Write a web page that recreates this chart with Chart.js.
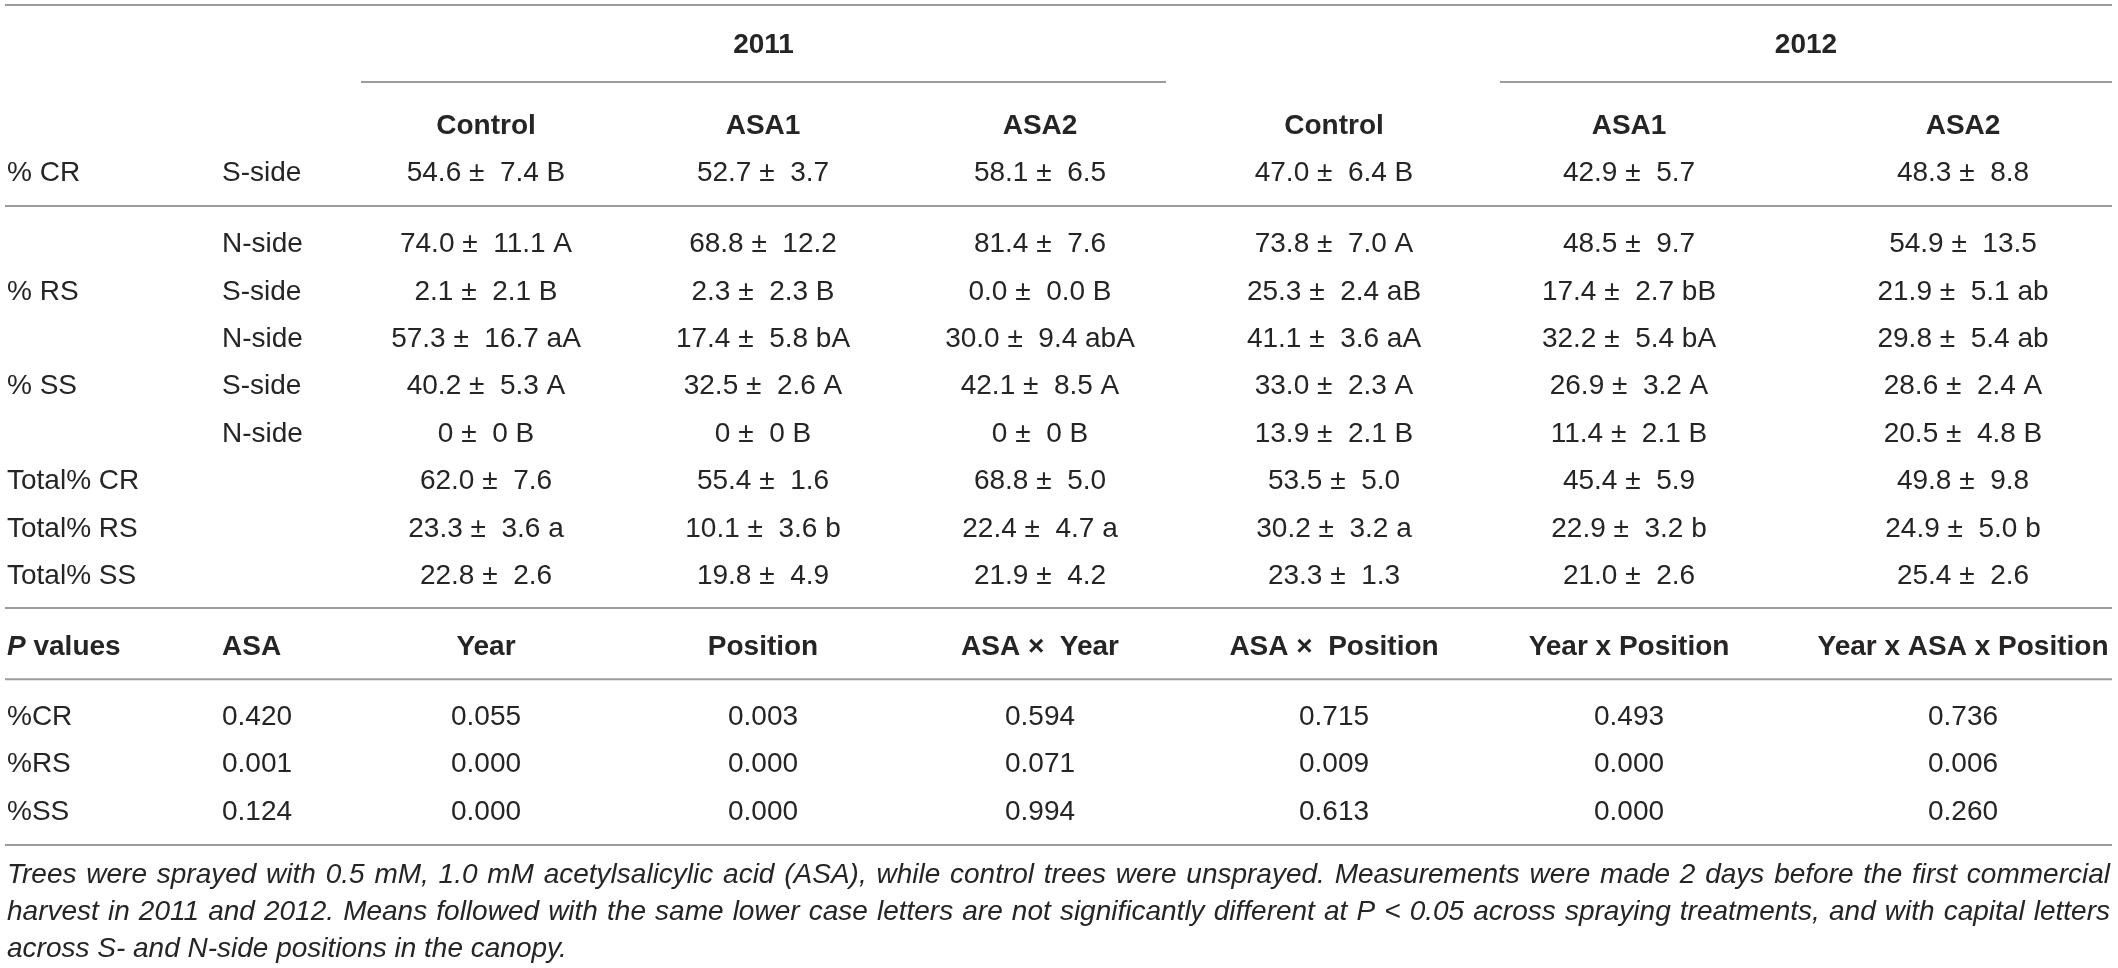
<!DOCTYPE html>
<html>
<head>
<meta charset="utf-8">
<title>Table</title>
<script src="https://cdn.jsdelivr.net/npm/chart.js@4.4.1/dist/chart.umd.min.js"></script>
<style>
  html, body { margin: 0; padding: 0; background: #fff; }
  #wrap { width: 2118px; height: 968px; }
</style>
</head>
<body>
<div id="wrap"><canvas id="tableChart" width="2118" height="968"></canvas></div>
<script>
// table content
const years = ['2011', '2012'];
const treatments = ['Control', 'ASA1', 'ASA2', 'Control', 'ASA1', 'ASA2'];
const traitLabels = ['% CR', '', '% RS', '', '% SS', '', 'Total% CR', 'Total% RS', 'Total% SS'];
const sideLabels = ['S-side', 'N-side', 'S-side', 'N-side', 'S-side', 'N-side', '', '', ''];

const control2011 = ['54.6 ±  7.4 B', '74.0 ±  11.1 A', '2.1 ±  2.1 B', '57.3 ±  16.7 aA', '40.2 ±  5.3 A', '0 ±  0 B', '62.0 ±  7.6', '23.3 ±  3.6 a', '22.8 ±  2.6'];
const asa1_2011 = ['52.7 ±  3.7', '68.8 ±  12.2', '2.3 ±  2.3 B', '17.4 ±  5.8 bA', '32.5 ±  2.6 A', '0 ±  0 B', '55.4 ±  1.6', '10.1 ±  3.6 b', '19.8 ±  4.9'];
const asa2_2011 = ['58.1 ±  6.5', '81.4 ±  7.6', '0.0 ±  0.0 B', '30.0 ±  9.4 abA', '42.1 ±  8.5 A', '0 ±  0 B', '68.8 ±  5.0', '22.4 ±  4.7 a', '21.9 ±  4.2'];
const control2012 = ['47.0 ±  6.4 B', '73.8 ±  7.0 A', '25.3 ±  2.4 aB', '41.1 ±  3.6 aA', '33.0 ±  2.3 A', '13.9 ±  2.1 B', '53.5 ±  5.0', '30.2 ±  3.2 a', '23.3 ±  1.3'];
const asa1_2012 = ['42.9 ±  5.7', '48.5 ±  9.7', '17.4 ±  2.7 bB', '32.2 ±  5.4 bA', '26.9 ±  3.2 A', '11.4 ±  2.1 B', '45.4 ±  5.9', '22.9 ±  3.2 b', '21.0 ±  2.6'];
const asa2_2012 = ['48.3 ±  8.8', '54.9 ±  13.5', '21.9 ±  5.1 ab', '29.8 ±  5.4 ab', '28.6 ±  2.4 A', '20.5 ±  4.8 B', '49.8 ±  9.8', '24.9 ±  5.0 b', '25.4 ±  2.6'];

const pHeaders = ['values', 'ASA', 'Year', 'Position', 'ASA ×  Year', 'ASA ×  Position', 'Year x Position', 'Year x ASA x Position'];
const pTraits = ['%CR', '%RS', '%SS'];
const pASA = ['0.420', '0.001', '0.124'];
const pYear = ['0.055', '0.000', '0.000'];
const pPosition = ['0.003', '0.000', '0.000'];
const pAsaYear = ['0.594', '0.071', '0.994'];
const pAsaPosition = ['0.715', '0.009', '0.613'];
const pYearPosition = ['0.493', '0.000', '0.000'];
const pAll = ['0.736', '0.006', '0.260'];

const footnote = [
  'Trees were sprayed with 0.5 mM, 1.0 mM acetylsalicylic acid (ASA), while control trees were unsprayed. Measurements were made 2 days before the first commercial',
  'harvest in 2011 and 2012. Means followed with the same lower case letters are not significantly different at P <  0.05 across spraying treatments, and with capital letters',
  'across S- and N-side positions in the canopy.'
];

// layout: x in table px units, y in row units
const colLeft = [7, 222];
const colCenter = [486, 763, 1040, 1334, 1629, 1963];
const bodyRows = [0, 1.5, 2.5, 3.5, 4.5, 5.5, 6.5, 7.5, 8.5];
const pRows = [11.48, 12.47, 13.48];
const noteRows = [14.81, 15.59, 16.37];

const valueCols = [control2011, asa1_2011, asa2_2011, control2012, asa1_2012, asa2_2012];
const pCols = [pASA, pYear, pPosition, pAsaYear, pAsaPosition, pYearPosition, pAll];

const ink = '#262424';
const ruleColor = '#9c9c9c';
const bodyFont = '28px "Liberation Sans", Arial, sans-serif';
const boldFont = 'bold 28px "Liberation Sans", Arial, sans-serif';
const noteFont = 'italic 28px "Liberation Sans", Arial, sans-serif';

function rule(x0, x1, y) {
  return {
    data: [{ x: x0, y: y }, { x: x1, y: y }],
    showLine: true,
    borderColor: ruleColor,
    borderWidth: 2,
    pointRadius: 0
  };
}

const tableText = {
  id: 'tableText',
  afterDatasetsDraw(chart) {
    const ctx = chart.ctx;
    const xs = chart.scales.x, ys = chart.scales.y;
    const put = (str, xv, yv, align, font) => {
      ctx.font = font;
      ctx.textAlign = align;
      ctx.fillText(str, xs.getPixelForValue(xv), ys.getPixelForValue(yv) + 10);
    };
    ctx.save();
    ctx.fillStyle = ink;
    ctx.textBaseline = 'alphabetic';

    // year headers
    put(years[0], (361 + 1166) / 2, -2.7, 'center', boldFont);
    put(years[1], (1500 + 2112) / 2, -2.7, 'center', boldFont);
    treatments.forEach((t, i) => put(t, colCenter[i], -1.0, 'center', boldFont));

    // body
    bodyRows.forEach((ry, r) => {
      if (traitLabels[r]) put(traitLabels[r], colLeft[0], ry, 'left', bodyFont);
      if (sideLabels[r]) put(sideLabels[r], colLeft[1], ry, 'left', bodyFont);
      valueCols.forEach((col, c) => put(col[r], colCenter[c], ry, 'center', bodyFont));
    });

    // P values header
    ctx.font = 'italic ' + boldFont;
    ctx.textAlign = 'left';
    const px = xs.getPixelForValue(colLeft[0]);
    const py = ys.getPixelForValue(10.0) + 10;
    ctx.fillText('P', px, py);
    const pw = ctx.measureText('P ').width;
    ctx.font = boldFont;
    ctx.fillText(pHeaders[0], px + pw, py);
    put(pHeaders[1], colLeft[1], 10.0, 'left', boldFont);
    pHeaders.slice(2).forEach((h, i) => put(h, colCenter[i], 10.0, 'center', boldFont));

    // P values body
    pRows.forEach((ry, r) => {
      put(pTraits[r], colLeft[0], ry, 'left', bodyFont);
      put(pCols[0][r], colLeft[1], ry, 'left', bodyFont);
      pCols.slice(1).forEach((col, c) => put(col[r], colCenter[c], ry, 'center', bodyFont));
    });

    // footnote, justified except the last line
    ctx.font = noteFont;
    ctx.textAlign = 'left';
    const left = xs.getPixelForValue(7), right = xs.getPixelForValue(2110);
    footnote.forEach((line, i) => {
      const y = ys.getPixelForValue(noteRows[i]) + 10;
      const words = line.split(' ').filter(w => w.length);
      if (i === footnote.length - 1) {
        ctx.fillText(words.join(' '), left, y);
        return;
      }
      const wordsW = words.reduce((s, w) => s + ctx.measureText(w).width, 0);
      const gap = Math.max(4, (right - left - wordsW) / (words.length - 1));
      let x = left;
      words.forEach(w => {
        ctx.fillText(w, x, y);
        x += ctx.measureText(w).width + gap;
      });
    });
    ctx.restore();
  }
};

new Chart(document.getElementById('tableChart'), {
  type: 'scatter',
  data: {
    datasets: [
      rule(5, 2112, -3.5),
      rule(361, 1166, -1.88),
      rule(1500, 2112, -1.88),
      rule(5, 2112, 0.74),
      rule(5, 2112, 9.22),
      rule(5, 2112, 10.72),
      rule(5, 2112, 14.22)
    ]
  },
  options: {
    responsive: false,
    animation: false,
    devicePixelRatio: 1,
    layout: { padding: 0 },
    plugins: { legend: { display: false }, tooltip: { enabled: false } },
    scales: {
      x: { type: 'linear', min: 0, max: 2118, display: false },
      y: { type: 'linear', min: -3.608, max: 16.814, reverse: true, display: false }
    }
  },
  plugins: [tableText]
});
</script>
</body>
</html>
